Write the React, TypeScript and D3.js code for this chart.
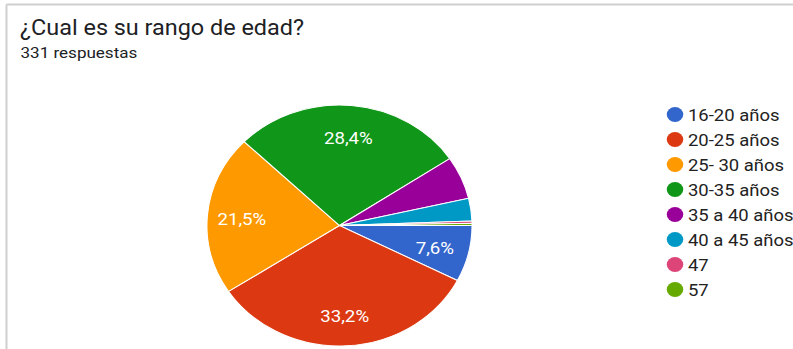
import React from "react";
import * as d3 from "d3";

const title = "¿Cual es su rango de edad?";
const subtitle = "331 respuestas";
const categories = [
  "16-20 años",
  "20-25 años",
  "25- 30 años",
  "30-35 años",
  "35 a 40 años",
  "40 a 45 años",
  "47",
  "57",
];
const counts = [25, 110, 71, 94, 19, 10, 1, 1];
const colors = ["#3366cc", "#dc3912", "#ff9900", "#109618", "#990099", "#0099c6", "#dd4477", "#66aa00"];

const W = 793;
const H = 349;
const SX = 1.1; // horizontal stretch of the reference image

export default function App() {
  const total = d3.sum(counts);
  const cx = 339.5 / SX;
  const cy = 225.5;
  const r = 120.5;
  const pie = d3
    .pie<number>()
    .sort(null)
    .value((d) => d)
    .startAngle(Math.PI / 2)
    .endAngle(Math.PI / 2 + 2 * Math.PI);
  const arcs = pie(counts);
  const arc = d3.arc<d3.PieArcDatum<number>>().innerRadius(0).outerRadius(r);
  const labelArc = d3.arc<d3.PieArcDatum<number>>().innerRadius(r * 0.74).outerRadius(r * 0.74);
  const fmt = (v: number) => ((v / total) * 100).toFixed(1).replace(".", ",") + "%";

  const legendY = d3.scalePoint<string>().domain(categories).range([114.5, 114.5 + 25 * (categories.length - 1)]);
  const legendCx = 675 / SX;
  const legendTx = 688 / SX;

  return (
    <>
      <style>{`body{margin:0;}`}</style>
      <svg width={W} height={H} style={{ display: "block", background: "#fff", fontFamily: "Roboto, Arial, sans-serif" }}>
        <rect x={0} y={0} width={W} height={H} fill="#fff" />
        {/* card border */}
        <line x1={6.5} y1={4.5} x2={W} y2={4.5} stroke="#cfcfcf" strokeWidth={2} />
        <line x1={6.5} y1={4.5} x2={6.5} y2={H} stroke="#cfcfcf" strokeWidth={2} />
        <g transform={`scale(${SX},1)`}>
          <text x={20 / SX} y={35} fontSize={21.3} fill="#202124">
            {title}
          </text>
          <text x={20.5 / SX} y={58} fontSize={15.5} fill="#202124">
            {subtitle}
          </text>
          <g transform={`translate(${cx},${cy})`}>
            {arcs.map((a, i) => (
              <path key={i} d={arc(a) || ""} fill={colors[i]} stroke="#fff" strokeWidth={1} />
            ))}
            {arcs.map((a, i) => {
              if (a.data / total < 0.07) return null;
              const [lx, ly] = labelArc.centroid(a);
              return (
                <text
                  key={"l" + i}
                  x={lx}
                  y={ly + 1.5}
                  textAnchor="middle"
                  dominantBaseline="central"
                  fontSize={17}
                  fill="#fff"
                >
                  {fmt(a.data)}
                </text>
              );
            })}
          </g>
          <g>
            {categories.map((c, i) => (
              <g key={c}>
                <circle cx={legendCx} cy={legendY(c)} r={7.5} fill={colors[i]} />
                <text x={legendTx} y={legendY(c) + 0.5} dominantBaseline="central" fontSize={16.8} fill="#222">
                  {c}
                </text>
              </g>
            ))}
          </g>
        </g>
      </svg>
    </>
  );
}
